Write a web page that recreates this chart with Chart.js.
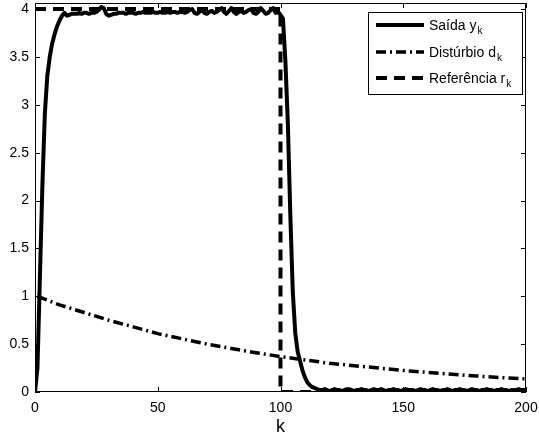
<!DOCTYPE html>
<html>
<head>
<meta charset="utf-8">
<script src="https://cdn.jsdelivr.net/npm/chart.js@4/dist/chart.umd.min.js"></script>
<style>
html,body{margin:0;padding:0;background:#fff;}
#wrap{width:539px;height:441px;position:relative;}
</style>
</head>
<body>
<div id="wrap"><canvas id="c" width="539" height="441"></canvas></div>
<script>
// ---- data ----
const xTicks = [0, 50, 100, 150, 200];
const yTicks = [0, 0.5, 1, 1.5, 2, 2.5, 3, 3.5, 4];

// output y_k, k = 0..200
const outputY = [
  0, 0.25, 1.2, 2.15, 2.9, 3.3, 3.5, 3.64, 3.74, 3.82, 3.88, 3.93, 3.96,
  3.93, 3.94, 3.95, 3.95, 3.95, 3.96, 3.95, 3.96, 3.96, 3.95, 3.96, 3.96, 3.97, 3.99, 4.02, 4.01, 3.95, 3.93,
  3.94, 3.95, 3.95, 3.96, 3.96, 3.96, 3.95, 3.96, 3.96, 3.96, 3.95, 3.96, 3.96, 3.97, 3.96, 3.96, 3.96, 3.97, 3.96, 3.96,
  3.97, 3.96, 3.96, 3.97, 3.96, 3.97, 3.97, 3.96, 3.97, 3.97, 3.96, 3.97, 3.99, 4.00, 3.96, 3.95, 3.97, 3.99, 3.96, 3.95,
  3.97, 3.98, 3.96, 3.97, 3.99, 4.01, 3.97, 3.95, 3.98, 4.01, 3.97, 3.95, 3.97, 3.98, 3.96, 3.97, 3.99, 4.00, 3.96, 3.95,
  3.97, 4.01, 3.98, 3.95, 3.96, 3.99, 4.01, 3.96, 3.97, 3.94,
  3.9, 3.45, 2.8, 1.85, 1.05, 0.62, 0.42, 0.32, 0.22, 0.15, 0.1, 0.07, 0.05, 0.04, 0.03,
  0.02, 0.02, 0.03, 0.02, 0.01, 0.02, 0.03, 0.02, 0.02, 0.01, 0.02, 0.03, 0.03, 0.02, 0.01,
  0.02, 0.02, 0.03, 0.02, 0.02, 0.01, 0.02, 0.03, 0.02, 0.02, 0.03, 0.02, 0.01, 0.02, 0.02,
  0.03, 0.02, 0.02, 0.01, 0.02, 0.03, 0.02, 0.02, 0.02, 0.01, 0.02, 0.03, 0.02, 0.02, 0.01,
  0.02, 0.03, 0.02, 0.02, 0.01, 0.02, 0.02, 0.03, 0.02, 0.01, 0.02, 0.02, 0.03, 0.02, 0.02,
  0.01, 0.02, 0.03, 0.02, 0.02, 0.01, 0.02, 0.02, 0.03, 0.02, 0.02, 0.01, 0.02, 0.02, 0.03,
  0.02, 0.02, 0.01, 0.02, 0.02, 0.02, 0.03, 0.02, 0.02, 0.02
];

// disturbance d_k, sampled
const distK = [1, 10, 20, 30, 40, 50, 60, 70, 80, 90, 100, 110, 120, 130, 140, 150, 160, 170, 180, 190, 200];
const distV = [1.00, 0.91, 0.83, 0.75, 0.68, 0.61, 0.555, 0.50, 0.455, 0.41, 0.37, 0.335, 0.30, 0.275, 0.25, 0.225, 0.205, 0.185, 0.167, 0.15, 0.137];

// reference r_k
const refK = [0, 100, 100, 200];
const refV = [4, 4, 0, 0];

const legendNames = ['Saída y', 'Distúrbio d', 'Referência r'];
const legendSub = ['k', 'k', 'k'];
const xTitle = 'k';

// ---- build ----
const outPts = outputY.map((v, i) => ({x: i, y: v}));
const distPts = distK.map((k, i) => ({x: k, y: distV[i]}));
const refPts = refK.map((k, i) => ({x: k, y: refV[i]}));

const FONT = '"Liberation Sans", Arial, Helvetica, sans-serif';
const dashes = [[], [10, 4, 2, 4], [11, 7]];
const widths = [4, 3.5, 4];

const framePlugin = {
  id: 'frame',
  afterDraw(chart) {
    const ctx = chart.ctx;
    const a = chart.chartArea;
    const xs = chart.scales.x, ys = chart.scales.y;
    ctx.save();
    ctx.strokeStyle = '#000';
    ctx.lineWidth = 1;
    ctx.beginPath();
    ctx.rect(a.left + 0.5, a.top + 0.5, a.right - a.left - 1, a.bottom - a.top - 1);
    ctx.stroke();
    const tl = 5;
    ctx.beginPath();
    xTicks.forEach(v => {
      const px = Math.round(xs.getPixelForValue(v)) + 0.5;
      ctx.moveTo(px, a.bottom); ctx.lineTo(px, a.bottom - tl);
      ctx.moveTo(px, a.top); ctx.lineTo(px, a.top + tl);
    });
    yTicks.forEach(v => {
      const py = Math.round(ys.getPixelForValue(v)) + 0.5;
      ctx.moveTo(a.left, py); ctx.lineTo(a.left + tl, py);
      ctx.moveTo(a.right, py); ctx.lineTo(a.right - tl, py);
    });
    ctx.stroke();

    // legend
    const bx = 368, by = 12, bw = 154, bh = 82;
    ctx.fillStyle = '#fff';
    ctx.fillRect(bx, by, bw, bh);
    ctx.strokeStyle = '#000';
    ctx.lineWidth = 1;
    ctx.strokeRect(bx + 0.5, by + 0.5, bw, bh);
    const rows = [25, 52, 78];
    legendNames.forEach((name, i) => {
      const y = rows[i];
      ctx.save();
      ctx.beginPath();
      ctx.setLineDash(dashes[i]);
      ctx.lineWidth = widths[i];
      ctx.strokeStyle = '#000';
      ctx.moveTo(376, y); ctx.lineTo(424, y);
      ctx.stroke();
      ctx.restore();
      ctx.fillStyle = '#000';
      ctx.textBaseline = 'alphabetic';
      ctx.textAlign = 'left';
      ctx.font = '14px ' + FONT;
      ctx.fillText(name, 429, y + 5);
      const w = ctx.measureText(name).width;
      ctx.font = '10px ' + FONT;
      ctx.fillText(legendSub[i], 429 + w + 1, y + 9);
    });
    ctx.restore();
  }
};

function noPad(s) { s.paddingTop = 0; s.paddingBottom = 0; s.paddingLeft = 0; s.paddingRight = 0; }

new Chart(document.getElementById('c'), {
  type: 'line',
  data: {
    datasets: [
      {label: legendNames[0], data: outPts, borderColor: '#000', borderWidth: widths[0], borderDash: dashes[0], pointRadius: 0, tension: 0, fill: false, borderJoinStyle: 'round'},
      {label: legendNames[1], data: distPts, borderColor: '#000', borderWidth: widths[1], borderDash: dashes[1], pointRadius: 0, tension: 0, fill: false},
      {label: legendNames[2], data: refPts, borderColor: '#000', borderWidth: widths[2], borderDash: dashes[2], pointRadius: 0, tension: 0, fill: false}
    ]
  },
  options: {
    responsive: false,
    animation: false,
    events: [],
    layout: {padding: {left: 0, right: 13, top: 3, bottom: 0}},
    plugins: {legend: {display: false}, tooltip: {enabled: false}},
    scales: {
      x: {
        type: 'linear', min: 0, max: 200,
        grid: {display: false, drawTicks: false},
        border: {display: false},
        ticks: {stepSize: 50, includeBounds: false, padding: 8, color: '#000', font: {family: FONT, size: 14}, maxRotation: 0,
          callback: v => String(v)},
        title: {display: true, text: xTitle, color: '#000', font: {family: FONT, size: 18}, padding: {top: 0, bottom: 3}},
        afterFit(s) { s.height = 49; noPad(s); }
      },
      y: {
        type: 'linear', min: 0, max: 4.063,
        grid: {display: false, drawTicks: false},
        border: {display: false},
        ticks: {stepSize: 0.5, includeBounds: false, padding: 6, color: '#000', font: {family: FONT, size: 14},
          callback: v => String(v)},
        afterFit(s) { s.width = 35; noPad(s); }
      }
    }
  },
  plugins: [framePlugin]
});
</script>
</body>
</html>
